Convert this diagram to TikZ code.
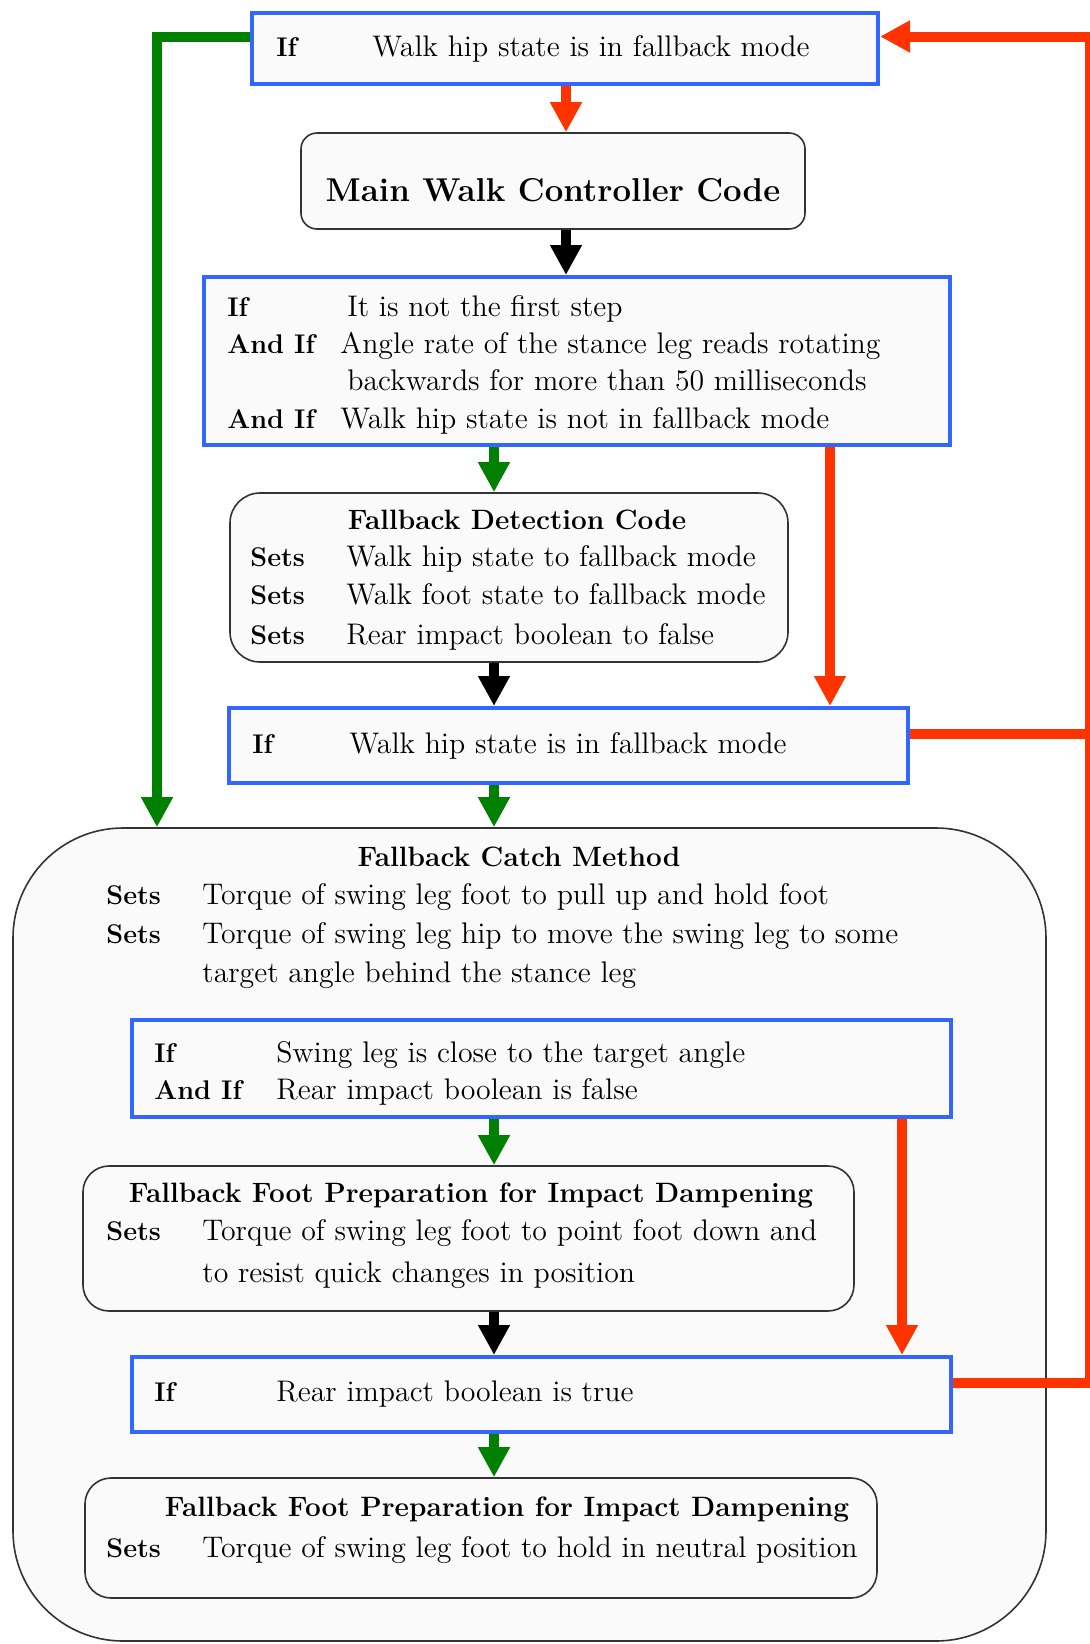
\documentclass[tikz,border=0pt]{standalone}
\usepackage{fontspec}
\usetikzlibrary{arrows.meta}

\definecolor{condBlue}{RGB}{51,102,255}
\definecolor{flowRed}{RGB}{255,51,0}
\definecolor{flowGreen}{RGB}{0,128,0}
\definecolor{boxFill}{RGB}{250,250,250}

\tikzstyle{cond}=[rectangle, draw=condBlue, line width=2pt, fill=boxFill, inner sep=0pt]
\tikzstyle{block}=[rectangle, draw=black!80, line width=0.8pt, fill=boxFill, inner sep=0pt]
\tikzstyle{txt}=[anchor=base west, inner sep=0pt, font=\fontsize{14.9pt}{18pt}\selectfont]
\tikzstyle{kw}=[anchor=base west, inner sep=0pt, font=\fontsize{13.5pt}{18pt}\selectfont\bfseries]
\tikzstyle{head}=[anchor=base, inner sep=0pt, font=\fontsize{14pt}{17pt}\selectfont\bfseries]
\tikzstyle{flow}=[line width=5pt, -{Triangle[length=15pt, width=15pt]}]
\tikzstyle{yesEdge}=[flow, flowGreen]
\tikzstyle{noEdge}=[flow, flowRed]
\tikzstyle{goEdge}=[flow, black]

\begin{document}
\begin{tikzpicture}[x=0.5pt, y=-0.5pt]

	\useasboundingbox (0,0) rectangle (1090,1644);

	% Kaesten
	\node(q1) at (565,48.5) [cond, minimum width=313pt, minimum height=35.5pt] {};
	\node(main) at (553,181) [block, rounded corners=8pt, minimum width=252pt, minimum height=48pt] {};
	\node(q2) at (577,361) [cond, minimum width=373pt, minimum height=84pt] {};
	\node(detect) at (509,577.5) [block, rounded corners=15pt, minimum width=279pt, minimum height=84.5pt] {};
	\node(q3) at (568.5,745.5) [cond, minimum width=339.5pt, minimum height=37.5pt] {};
	\node(catch) at (529.5,1234.5) [block, rounded corners=55pt, minimum width=516.5pt, minimum height=406.5pt] {};
	\node(q4) at (541.5,1068.5) [cond, minimum width=409.5pt, minimum height=48.5pt] {};
	\node(prep) at (468.5,1238.5) [block, rounded corners=13pt, minimum width=385.5pt, minimum height=72.5pt] {};
	\node(q5) at (541.5,1394.5) [cond, minimum width=409.5pt, minimum height=37.5pt] {};
	\node(hold) at (481,1538) [block, rounded corners=13pt, minimum width=396pt, minimum height=60pt] {};

	% Texte
	\node(q1If) at (276,56) [kw] {If};
	\node(q1Txt) at (372,56) [txt] {Walk hip state is in fallback mode};

	\node(mainTxt) at (553,201) [head, font=\fontsize{16.5pt}{19pt}\selectfont\bfseries] {Main Walk Controller Code};

	\node(q2If) at (227,316) [kw] {If};
	\node(q2TxtA) at (347,316) [txt] {It is not the first step};
	\node(q2AndA) at (227,353) [kw] {And If};
	\node(q2TxtB) at (340,353) [txt] {Angle rate of the stance leg reads rotating};
	\node(q2TxtC) at (347,390) [txt] {backwards for more than 50 milliseconds};
	\node(q2AndB) at (227,428) [kw] {And If};
	\node(q2TxtD) at (340,428) [txt] {Walk hip state is not in fallback mode};

	\node(detHead) at (517,529) [head] {Fallback Detection Code};
	\foreach \y in {566,604,644}
		\node(detSets\y) at (250,\y) [kw] {Sets};
	\node(detTxtA) at (346,566) [txt] {Walk hip state to fallback mode};
	\node(detTxtB) at (346,604) [txt] {Walk foot state to fallback mode};
	\node(detTxtC) at (346,644) [txt] {Rear impact boolean to false};

	\node(q3If) at (252,753) [kw] {If};
	\node(q3Txt) at (349,753) [txt] {Walk hip state is in fallback mode};

	\node(catchHead) at (519,866) [head] {Fallback Catch Method};
	\foreach \y in {904,943}
		\node(catchSets\y) at (106,\y) [kw] {Sets};
	\node(catchTxtA) at (202,904) [txt] {Torque of swing leg foot to pull up and hold foot};
	\node(catchTxtB) at (202,943) [txt] {Torque of swing leg hip to move the swing leg to some};
	\node(catchTxtC) at (202,982) [txt] {target angle behind the stance leg};

	\node(q4If) at (154,1062) [kw] {If};
	\node(q4TxtA) at (276,1062) [txt] {Swing leg is close to the target angle};
	\node(q4And) at (154,1099) [kw] {And If};
	\node(q4TxtB) at (276,1099) [txt] {Rear impact boolean is false};

	\node(prepHead) at (471,1202) [head] {Fallback Foot Preparation for Impact Dampening};
	\node(prepSets) at (106,1240) [kw] {Sets};
	\node(prepTxtA) at (202,1240) [txt] {Torque of swing leg foot to point foot down and};
	\node(prepTxtB) at (202,1282) [txt] {to resist quick changes in position};

	\node(q5If) at (154,1401) [kw] {If};
	\node(q5Txt) at (276,1401) [txt] {Rear impact boolean is true};

	\node(holdHead) at (507,1516) [head] {Fallback Foot Preparation for Impact Dampening};
	\node(holdSets) at (106,1557) [kw] {Sets};
	\node(holdTxt) at (202,1557) [txt] {Torque of swing leg foot to hold in neutral position};

	% Hilfspunkte fuer die Pfeile
	\coordinate(mid) at (566,0);
	\coordinate(axis) at (494,0);
	\coordinate(drop1) at (830,0);
	\coordinate(drop2) at (902,0);
	\coordinate(gleft) at (157,0);
	\coordinate(rail) at (1090,700);

	% Pfeile nach unten
	\draw[noEdge] (mid |- q1.south) -- (mid |- main.north);
	\draw[goEdge] (mid |- main.south) -- (mid |- q2.north);
	\draw[yesEdge] (axis |- q2.south) -- (axis |- detect.north);
	\draw[noEdge] (drop1 |- q2.south) -- (drop1 |- q3.north);
	\draw[goEdge] (axis |- detect.south) -- (axis |- q3.north);
	\draw[yesEdge] (axis |- q3.south) -- (axis |- catch.north);
	\draw[yesEdge] (axis |- q4.south) -- (axis |- prep.north);
	\draw[noEdge] (drop2 |- q4.south) -- (drop2 |- q5.north);
	\draw[goEdge] (axis |- prep.south) -- (axis |- q5.north);
	\draw[yesEdge] (axis |- q5.south) -- (axis |- hold.north);

	% Rueckwege
	\draw[noEdge] ([yshift=6pt]q5.east) -| (rail) |- ([yshift=6pt]q1.east);
	\draw[line width=5pt, flowRed] ([yshift=6pt]q3.east) -- ([yshift=6pt]q3.east -| rail);
	\draw[yesEdge] ([yshift=6pt]q1.west) -| (gleft |- catch.north);

\end{tikzpicture}
\end{document}
